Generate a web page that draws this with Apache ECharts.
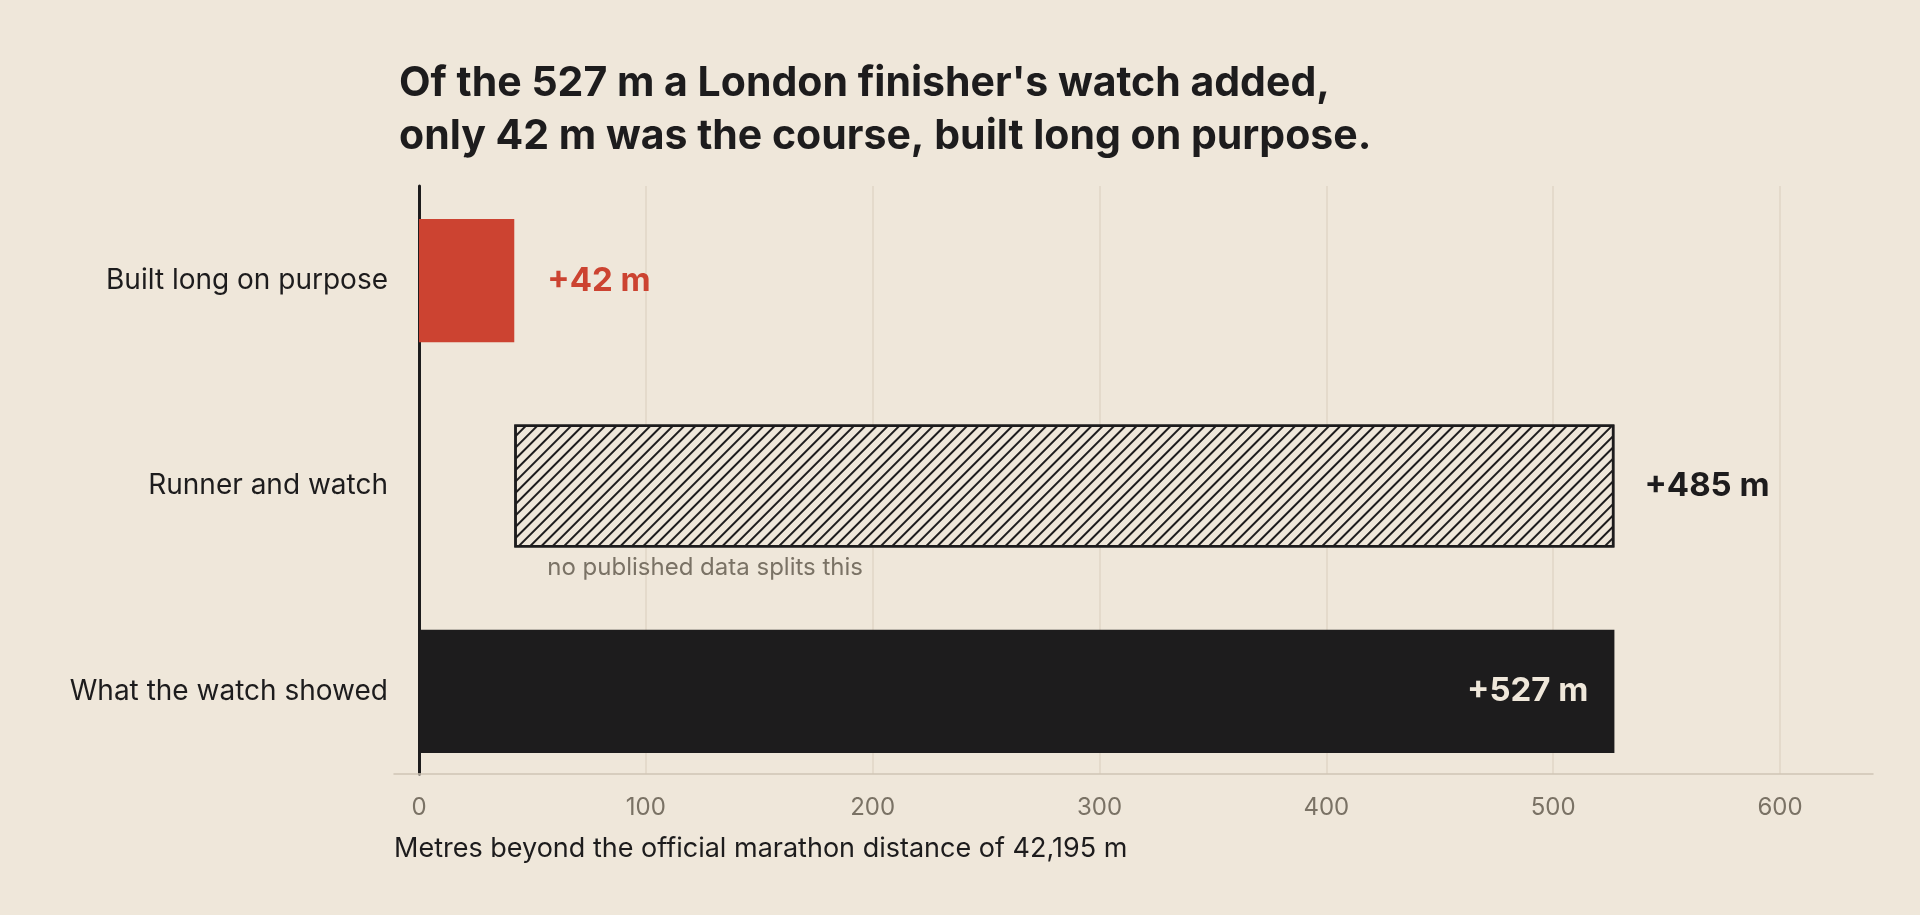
<!DOCTYPE html>
<html><head><meta charset="utf-8">
<script src="https://cdn.jsdelivr.net/npm/echarts@6/dist/echarts.min.js"></script>
<style>html,body{margin:0;padding:0;background:#efe7da}#c{width:1920px;height:915px}</style>
</head><body><div id="c"></div>
<script>
const categories = ['What the watch showed','Runner and watch','Built long on purpose'];
const baseValues = [0, 42, 0];
const segValues = [527, 485, 42];
const labels = ['+527 m','+485 m','+42 m'];
const ticks = [0,100,200,300,400,500,600];
const note = 'no published data splits this';

const BG='#efe7da', RED='#cc4331', INK='#1d1c1d', GREY='#7a7265';
const FONT='Inter, "Liberation Sans", Arial, sans-serif';
const chart = echarts.init(document.getElementById('c'));
const segData = segValues.map((v,i)=>{
  if(i===0) return {value:v,itemStyle:{color:INK},label:{show:true,position:'insideRight',distance:26,color:BG,formatter:labels[i]}};
  if(i===1) return {value:v,itemStyle:{color:BG,borderColor:INK,borderWidth:2.5,decal:{symbol:'rect',dashArrayX:[1,0],dashArrayY:[1.6,6],rotation:-Math.PI/4,color:INK}},label:{show:true,position:'right',distance:30,color:INK,formatter:labels[i]}};
  return {value:v,itemStyle:{color:RED},label:{show:true,position:'right',distance:33,color:RED,formatter:labels[i]}};
});
chart.setOption({
  backgroundColor:BG,
  animation:false,
  textStyle:{fontFamily:FONT},
  title:{text:"Of the 527 m a London finisher's watch added,\nonly 42 m was the course, built long on purpose.",left:394,top:52,
    textStyle:{fontFamily:FONT,fontSize:41,fontWeight:'bold',color:INK,lineHeight:53}},
  grid:[
    {left:419,right:140,top:178,bottom:121},
    {left:419,right:140,top:186,bottom:141},
    {left:394,right:47,top:186,bottom:141}
  ],
  xAxis:[
    {gridIndex:0,type:'value',min:ticks[0],max:ticks[ticks.length-1],interval:100,show:false},
    {gridIndex:1,type:'value',min:ticks[0],max:ticks[ticks.length-1],interval:100,axisLine:{show:false},axisTick:{show:false},
      splitLine:{show:true,lineStyle:{color:'#e0d6c6',width:1.5}},axisLabel:{color:GREY,fontSize:24,margin:22,fontFamily:FONT}},
    {gridIndex:2,type:'value',min:-10.8,max:641,axisLine:{show:true,lineStyle:{color:'#cfc5b5',width:1.5}},axisTick:{show:false},axisLabel:{show:false},splitLine:{show:false}}
  ],
  yAxis:[
    {gridIndex:0,type:'category',data:categories,axisLine:{show:false},axisTick:{show:false},
      axisLabel:{color:INK,fontSize:28,margin:31,fontFamily:FONT}},
    {gridIndex:1,type:'value',axisLine:{show:true,onZero:false,lineStyle:{color:INK,width:3}},axisTick:{show:false},axisLabel:{show:false},splitLine:{show:false}},
    {gridIndex:2,type:'value',show:false}
  ],
  series:[
    {type:'bar',xAxisIndex:0,yAxisIndex:0,stack:'s',data:baseValues,itemStyle:{color:'transparent'},barWidth:'60%',silent:true},
    {type:'bar',xAxisIndex:0,yAxisIndex:0,stack:'s',data:segData,barWidth:'60%',
      label:{fontSize:33,fontWeight:'bold',fontFamily:FONT}}
  ]
});
const p = chart.convertToPixel({xAxisIndex:0,yAxisIndex:0},[baseValues[1],categories[1]]);
chart.setOption({graphic:[
  {type:'text',left:p[0]+33,top:p[1]+70,style:{text:note,fill:GREY,fontSize:24,fontFamily:FONT}},
  {type:'text',left:394,top:835,style:{text:'Metres beyond the official marathon distance of 42,195 m',fill:INK,fontSize:27,fontFamily:FONT}}
]});
</script></body></html>
